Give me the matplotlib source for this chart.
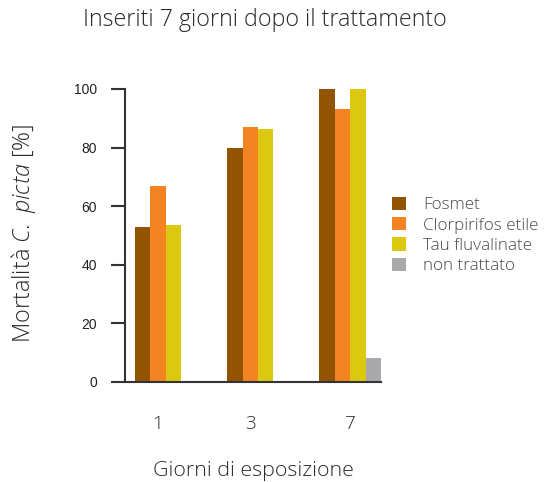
import matplotlib
matplotlib.use("Agg")
import matplotlib.pyplot as plt
import numpy as np

days = ["1", "3", "7"]
series = ["Fosmet", "Clorpirifos etile", "Tau fluvalinate", "non trattato"]
fosmet = [53, 80, 100]
clorpirifos = [67, 87, 93]
tau = [53.5, 86.5, 100]
non_trattato = [0, 0, 8]
colors = ["#925400", "#f38421", "#dcc80f", "#a9a9ac"]

values = [fosmet, clorpirifos, tau, non_trattato]

FONT = 'Open Sans'
plt.rcParams['font.family'] = [FONT, 'DejaVu Sans']
plt.rcParams['font.weight'] = 300
plt.rcParams['mathtext.fontset'] = 'custom'
plt.rcParams['mathtext.it'] = 'Open Sans:style=italic:weight=300'
plt.rcParams['mathtext.rm'] = 'Open Sans:weight=300'

W, H = 549, 482
fig = plt.figure(figsize=(W/100, H/100), dpi=100)
ax = fig.add_axes([125/W, 1-381.7/H, (381-125)/W, (381.7-89)/H])
renderer = fig.canvas.get_renderer()


def fit(t, target, vertical=False):
    bb = t.get_window_extent(renderer)
    cur = bb.height if vertical else bb.width
    t.set_fontsize(t.get_fontsize() * target / cur)


slot = 6
group_start = np.arange(len(days)) * slot
for j, (name, vals, c) in enumerate(zip(series, values, colors)):
    ax.bar(group_start + j + 0.5, vals, width=1.0, color=c, label=name, linewidth=0)

ax.set_xlim(-0.65, group_start[-1] + len(series))
ax.set_ylim(0, 100)

# legend font size calibrated on the longest label
probe = fig.text(0, 0, "Clorpirifos etile", fontsize=12, fontweight=300)
fit(probe, 116)
fs = probe.get_fontsize()
probe.remove()

centers = []
for g in range(len(days)):
    n = sum(1 for v in values if v[g] > 0)
    centers.append(group_start[g] + n / 2)
ax.set_xticks(centers)
ax.set_xticklabels(days, fontsize=fs * 1.1, color="#2a2a2a", fontweight=300)
ax.tick_params(axis='x', length=0, pad=24)

ax.set_yticks([0, 20, 40, 60, 80, 100])
ax.tick_params(axis='y', length=10, width=1.5, color="#333333", pad=10,
               labelsize=10, labelcolor="#222222")
for lab in ax.get_yticklabels():
    lab.set_fontfamily('Liberation Sans')
    lab.set_fontweight('normal')

for s in ['top', 'right']:
    ax.spines[s].set_visible(False)
for s in ['left', 'bottom']:
    ax.spines[s].set_color("#333333")
    ax.spines[s].set_linewidth(1.5)

t1 = fig.text(265/W, 1-20/H, "Inseriti 7 giorni dopo il trattamento", ha='center', va='center',
              fontsize=14, color="#2a2a2a", fontweight=300)
fit(t1, 366)
t2 = fig.text(253/W, 1-471/H, "Giorni di esposizione", ha='center', va='center',
              fontsize=13, color="#2a2a2a", fontweight=300)
fit(t2, 200)
t3 = fig.text(24/W, 1-233/H, r"Mortalità $\it{C.\ picta}$ [%]", ha='center', va='center',
              rotation=90, fontsize=15, color="#2a2a2a", fontweight=300)
fit(t3, 220, vertical=True)

px = fs * 100 / 72
leg = ax.legend(loc='center left', bbox_to_anchor=(392/W, 1-235.5/H),
                bbox_transform=fig.transFigure, frameon=False,
                borderpad=0, borderaxespad=0,
                handlelength=14/px, handleheight=14/px, handletextpad=17/px,
                labelspacing=0.22, prop={'family': FONT, 'size': fs, 'weight': 300})
for t in leg.get_texts():
    t.set_color("#4a4a4a")

fig.savefig("out.png", dpi=100)
